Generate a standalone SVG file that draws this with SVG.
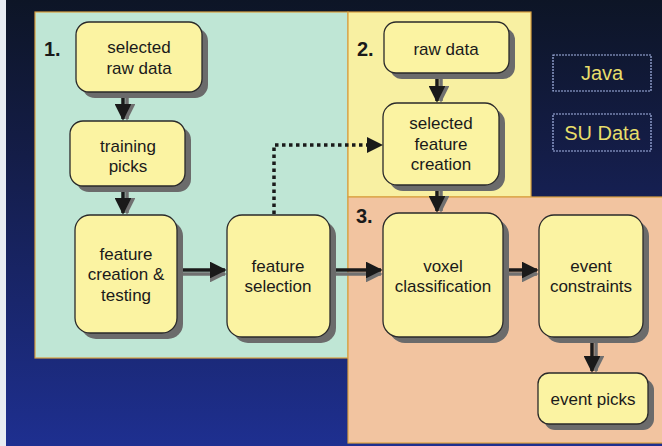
<svg xmlns="http://www.w3.org/2000/svg" width="662" height="446" viewBox="0 0 662 446">
<defs>
<linearGradient id="bg" x1="0" y1="0" x2="0" y2="1">
<stop offset="0" stop-color="#0d1526"/>
<stop offset="0.35" stop-color="#141d48"/>
<stop offset="1" stop-color="#1e2f90"/>
</linearGradient>
<marker id="ah" viewBox="0 0 10 10" refX="9" refY="5" markerWidth="4.8" markerHeight="4.8" orient="auto" markerUnits="strokeWidth">
<path d="M0,0 L10,5 L0,10 z" fill="#1a1a1a"/>
</marker>
<marker id="ahs" viewBox="0 0 10 10" refX="9" refY="5" markerWidth="4.8" markerHeight="4.8" orient="auto" markerUnits="strokeWidth">
<path d="M0,0 L10,5 L0,10 z" fill="#707070"/>
</marker>
</defs>
<style>
.panel{stroke:#d9a040;stroke-width:1.2}
.box{fill:#fbf3a2;stroke:#2a2a2a;stroke-width:1.3}
.sh{fill:#6b6b6b}
.t{font-family:"Liberation Sans","DejaVu Sans",sans-serif;font-size:17px;fill:#1a1a1a;text-anchor:middle}
.num{font-family:"Liberation Sans","DejaVu Sans",sans-serif;font-size:20px;font-weight:bold;fill:#1a1a1a}
.c{stroke:#1a1a1a;stroke-width:3.5;fill:none;marker-end:url(#ah)}
.cs{stroke:#707070;stroke-width:3.5;fill:none;marker-end:url(#ahs)}
.leg{fill:none;stroke:#a8b8e8;stroke-width:1.2;stroke-dasharray:2 1}
.lt{font-family:"Liberation Sans","DejaVu Sans",sans-serif;font-size:20px;fill:#e8de6a;text-anchor:middle}
</style>
<rect x="0" y="0" width="662" height="446" fill="url(#bg)"/>
<rect x="0" y="0" width="6" height="446" fill="#e8ecf2"/>
<g id="panel1"><rect class="panel" x="35" y="12" width="313" height="346" fill="#bfe6d5"/><text class="num" x="44" y="56">1.</text></g>
<g id="panel2"><rect class="panel" x="348" y="12" width="183" height="185" fill="#f8f0a2"/><text class="num" x="357" y="56">2.</text></g>
<g id="panel3"><rect class="panel" x="348" y="197" width="316" height="246" fill="#f2c4a0"/><text class="num" x="356" y="223">3.</text></g>
<g id="legend-java"><rect class="leg" x="553" y="55" width="98" height="36"/><text class="lt" x="602" y="80">Java</text></g>
<g id="legend-su"><rect class="leg" x="553" y="114" width="98" height="37"/><text class="lt" x="602" y="140">SU Data</text></g>
<g id="connectors">
<path class="cs" d="M127,95 V119"/><path class="c" d="M123,92 V119"/>
<path class="cs" d="M127,189 V213"/><path class="c" d="M123,186 V213"/>
<path class="cs" d="M180,274 H225"/><path class="c" d="M177,270 H225"/>
<path class="cs" d="M333,274 H381"/><path class="c" d="M330,270 H381"/>
<path class="cs" d="M506,274 H537"/><path class="c" d="M503,270 H537"/>
<path class="cs" d="M596,340 V371"/><path class="c" d="M592,337 V371"/>
<path class="cs" d="M441,76 V101"/><path class="c" d="M437,73 V101"/>
<path class="cs" d="M441,188 V211"/><path class="c" d="M437,185 V211"/>
<path d="M274,214 V145 H368" fill="none" stroke="#1a1a1a" stroke-width="3.5" stroke-dasharray="3.5 3.5"/>
<path d="M367,137 L383,145 L367,153 z" fill="#1a1a1a"/>
</g>
<g id="n-selected-raw"><rect class="sh" x="82" y="28" width="126" height="70" rx="13"/><rect class="box" x="76" y="22" width="126" height="70" rx="13"/><text class="t" x="139" y="53">selected</text><text class="t" x="139" y="74">raw data</text></g>
<g id="n-training"><rect class="sh" x="76" y="127" width="115" height="65" rx="13"/><rect class="box" x="70" y="121" width="115" height="65" rx="13"/><text class="t" x="128" y="152">training</text><text class="t" x="128" y="172">picks</text></g>
<g id="n-feature-creation"><rect class="sh" x="81" y="221" width="102" height="118" rx="15"/><rect class="box" x="75" y="215" width="102" height="118" rx="15"/><text class="t" x="126" y="260">feature</text><text class="t" x="126" y="280">creation &amp;</text><text class="t" x="126" y="301">testing</text></g>
<g id="n-feature-selection"><rect class="sh" x="233" y="221" width="103" height="122" rx="15"/><rect class="box" x="227" y="215" width="103" height="122" rx="15"/><text class="t" x="278" y="272">feature</text><text class="t" x="278" y="292">selection</text></g>
<g id="n-raw"><rect class="sh" x="390" y="28" width="125" height="51" rx="12"/><rect class="box" x="384" y="22" width="125" height="51" rx="12"/><text class="t" x="446" y="55">raw data</text></g>
<g id="n-selected-feature"><rect class="sh" x="389" y="109" width="116" height="82" rx="14"/><rect class="box" x="383" y="103" width="116" height="82" rx="14"/><text class="t" x="441" y="129">selected</text><text class="t" x="441" y="150">feature</text><text class="t" x="441" y="170">creation</text></g>
<g id="n-voxel"><rect class="sh" x="389" y="219" width="120" height="124" rx="16"/><rect class="box" x="383" y="213" width="120" height="124" rx="16"/><text class="t" x="443" y="272">voxel</text><text class="t" x="443" y="292">classification</text></g>
<g id="n-event-constraints"><rect class="sh" x="545" y="221" width="104" height="122" rx="15"/><rect class="box" x="539" y="215" width="104" height="122" rx="15"/><text class="t" x="591" y="272">event</text><text class="t" x="591" y="292">constraints</text></g>
<g id="n-event-picks"><rect class="sh" x="544" y="379" width="110" height="51" rx="11"/><rect class="box" x="538" y="373" width="110" height="51" rx="11"/><text class="t" x="593" y="405">event picks</text></g>
</svg>
